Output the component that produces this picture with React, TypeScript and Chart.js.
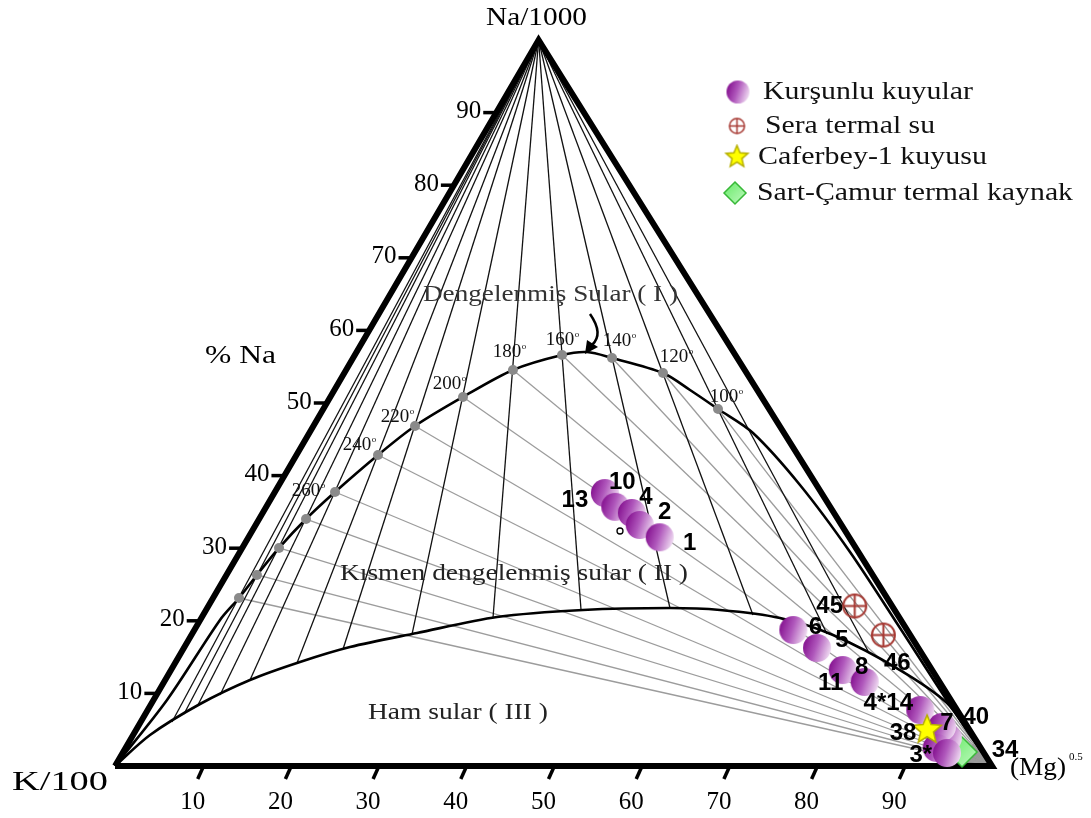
import React, { useEffect, useRef } from "react";
import { Chart, registerables } from "chart.js";

Chart.register(...registerables);

// ---------------- data (ternary %, Na = Na/1000, Mg = Mg^0.5, K/100 = 100 - Na - Mg) ----------------
const wellLabels = ["13", "10", "4", "2", "1", "6", "5", "11", "8", "4*14", "40", "7", "3*", ""];
const wellNa = [37.6, 35.7, 34.85, 33.2, 31.5, 18.73, 16.25, 13.22, 11.57, 7.71, 3.86, 5.37, 2.48, 1.79];
const wellMg = [37.7, 39.8, 42.1, 43.8, 46.9, 68.3, 72.2, 76.6, 79.9, 88.1, 93.1, 91.7, 92.5, 94.0];

const seraLabels = ["45", "46"];
const seraNa = [22.04, 18.04];
const seraMg = [73.7, 78.9];

const caferLabels = ["38"];
const caferNa = [4.96];
const caferMg = [90.2];

const sartLabels = ["34"];
const sartNa = [1.93];
const sartMg = [95.65];

// full-equilibrium temperature points (°C)
const tempLabels = ["340", "320", "300", "280", "260", "240", "220", "200", "180", "160", "140", "120", "100"];
const tempShown = [false, false, false, false, true, true, true, true, true, true, true, true, true];
const tempNa = [23.14, 26.31, 30.03, 34.02, 37.74, 42.84, 46.83, 50.83, 54.55, 56.61, 56.2, 54.13, 49.17];
const tempMg = [2.96, 3.48, 4.2, 5.35, 6.86, 9.3, 11.59, 15.13, 19.03, 23.63, 29.53, 36.34, 45.01];

// K-Mg isotherms (from the Na apex) : lower end points on the partial-equilibrium curve
const kmgEndNa = [6.06, 7.16, 8.4, 9.78, 11.85, 14.19, 16.12, 18.18, 20.39, 21.49, 21.76, 20.8, 18.18, 15.84];
const kmgEndMg = [3.57, 4.41, 5.4, 7.25, 9.67, 13.9, 18.22, 25.09, 33.25, 42.76, 52.77, 62.7, 72.41, 78.21];

// full equilibrium curve
const upperNa = [0, 9.09, 20.11, 23.14, 26.31, 30.03, 34.02, 37.74, 42.84, 46.83, 50.83, 54.55, 56.61, 57.02, 56.2, 54.13, 51.79, 49.17, 45.87, 38.71, 29.48, 19.01, 8.4, 0];
const upperMg = [0, 1.54, 2.26, 2.96, 3.48, 4.2, 5.35, 6.86, 9.3, 11.59, 15.13, 19.03, 23.63, 26.28, 29.53, 36.34, 40.55, 45.01, 50.59, 59.41, 69.57, 80.33, 91.15, 100];

// partial equilibrium curve
const lowerNa = [0, 4.27, 8.54, 11.85, 14.33, 16.39, 18.32, 20.52, 21.49, 21.76, 21.49, 20.39, 18.04, 13.22, 8.68, 4.27, 0];
const lowerMg = [0, 1.93, 5.57, 9.67, 14.17, 18.88, 25.59, 33.65, 42.98, 52.77, 58.61, 65.98, 73.16, 83.12, 90.68, 95.43, 100];

const cornerNa = [0, 0, 3.31];
const cornerMg = [96.1, 100, 96.35];

const naTicks = [10, 20, 30, 40, 50, 60, 70, 80, 90];
const mgTicks = [10, 20, 30, 40, 50, 60, 70, 80, 90];

const legendLabels = ["Kurşunlu kuyular", "Sera termal su", "Caferbey-1 kuyusu", "Sart-Çamur termal kaynak"];

// ---------------- layout / style ----------------
const SHIFT = 0.483; // apex offset along base per unit Na
const X_MIN = -13.113, X_MAX = 111.288, Y_MIN = -7.163, Y_MAX = 105.51;

const wellLabelOffsets = [[-30, 7], [7, -24], [14, -16], [25, -13], [30, 6], [22, -3], [25, -8], [-12, 13], [-3, -15], [-32, -7], [28, -21], [5, -4], [-16, 7], [0, 0]];
const seraLabelOffsets = [[-25, 0], [14, 28]];
const caferLabelOffsets = [[-24, 3]];
const sartLabelOffsets = [[43, -2]];
const tempLabelOffsets = [[0, 0], [0, 0], [0, 0], [0, 0], [-26, -1], [-18, -10], [-17, -9], [-13, -13], [-3, -18], [1, -15], [8, -17], [14, -16], [9, -12]];

const SERIF = "'Liberation Serif', 'DejaVu Serif', serif";
const SANS = "'Liberation Sans', Arial, sans-serif";

const tern = (na: number, mg: number) => ({ x: mg + na * SHIFT, y: na });

function mkCanvas(s: number) {
  const c = document.createElement("canvas");
  c.width = s;
  c.height = s;
  return c;
}
function ball(r: number) {
  const s = Math.ceil(2 * r + 2);
  const c = mkCanvas(s);
  const g = c.getContext("2d")!;
  const grad = g.createLinearGradient(1, s * 0.35, s - 1, s * 0.65);
  grad.addColorStop(0, "#84108F");
  grad.addColorStop(0.45, "#B058BC");
  grad.addColorStop(1, "#F2E0F4");
  g.fillStyle = grad;
  g.beginPath();
  g.arc(s / 2, s / 2, r, 0, Math.PI * 2);
  g.fill();
  return c;
}
function crossCircle(r: number, lw: number) {
  const s = Math.ceil(2 * r + lw + 2);
  const c = mkCanvas(s);
  const g = c.getContext("2d")!;
  g.strokeStyle = "#A63832";
  g.lineWidth = lw;
  g.beginPath();
  g.arc(s / 2, s / 2, r, 0, Math.PI * 2);
  g.stroke();
  g.beginPath();
  g.moveTo(s / 2 - r, s / 2);
  g.lineTo(s / 2 + r, s / 2);
  g.moveTo(s / 2, s / 2 - r);
  g.lineTo(s / 2, s / 2 + r);
  g.stroke();
  return c;
}
function star(r: number) {
  const s = Math.ceil(2 * r + 4);
  const c = mkCanvas(s);
  const g = c.getContext("2d")!;
  g.beginPath();
  for (let i = 0; i < 10; i++) {
    const rr = i % 2 === 0 ? r : r * 0.45;
    const a = -Math.PI / 2 + (i * Math.PI) / 5;
    const px = s / 2 + rr * Math.cos(a);
    const py = s / 2 + rr * Math.sin(a);
    i === 0 ? g.moveTo(px, py) : g.lineTo(px, py);
  }
  g.closePath();
  g.fillStyle = "#FFFF00";
  g.fill();
  g.strokeStyle = "#B5AE00";
  g.lineWidth = 1.5;
  g.stroke();
  return c;
}
function diamond(r: number) {
  const s = Math.ceil(2 * r + 4);
  const c = mkCanvas(s);
  const g = c.getContext("2d")!;
  const grad = g.createLinearGradient(0, 0, s, s);
  grad.addColorStop(0, "#5EE85E");
  grad.addColorStop(1, "#C8FBC8");
  g.beginPath();
  g.moveTo(s / 2, s / 2 - r);
  g.lineTo(s / 2 + r, s / 2);
  g.lineTo(s / 2, s / 2 + r);
  g.lineTo(s / 2 - r, s / 2);
  g.closePath();
  g.fillStyle = grad;
  g.fill();
  g.strokeStyle = "#38B838";
  g.lineWidth = 1.5;
  g.stroke();
  return c;
}

function fitText(ctx: CanvasRenderingContext2D, text: string, left: number, right: number, cy: number, font: string, color = "#000") {
  ctx.save();
  ctx.font = font;
  ctx.fillStyle = color;
  ctx.textBaseline = "middle";
  ctx.textAlign = "left";
  const w = ctx.measureText(text).width;
  ctx.translate(left, cy);
  ctx.scale((right - left) / w, 1);
  ctx.fillText(text, 0, 0);
  ctx.restore();
}
function text(ctx: CanvasRenderingContext2D, t: string, x: number, y: number, font: string, align: CanvasTextAlign = "center", color = "#000") {
  ctx.save();
  ctx.font = font;
  ctx.fillStyle = color;
  ctx.textAlign = align;
  ctx.textBaseline = "middle";
  ctx.fillText(t, x, y);
  ctx.restore();
}

export default function App() {
  const ref = useRef<HTMLCanvasElement>(null);
  useEffect(() => {
    const canvas = ref.current!;
    const wellImg = ball(14);
    const seraImg = crossCircle(11.5, 2);
    const starImg = star(15);
    const diaImg = diamond(15);
    const legendImgs = [ball(11.5), crossCircle(7.5, 1.5), star(11.5), diamond(11)];

    const pix = (chart: any) => (na: number, mg: number) => [
      chart.scales.x.getPixelForValue(mg + na * SHIFT),
      chart.scales.y.getPixelForValue(na),
    ];

    const overlay = {
      id: "overlay",
      beforeDatasetsDraw(chart: any) {
        const ctx = chart.ctx as CanvasRenderingContext2D;
        const P = pix(chart);
        ctx.save();
        ctx.fillStyle = "#8c8c8c";
        ctx.beginPath();
        cornerNa.forEach((na, i) => {
          const [px, py] = P(na, cornerMg[i]);
          i ? ctx.lineTo(px, py) : ctx.moveTo(px, py);
        });
        ctx.closePath();
        ctx.fill();
        ctx.restore();
      },
      afterDatasetsDraw(chart: any) {
        const ctx = chart.ctx as CanvasRenderingContext2D;
        const P = pix(chart);
        // Na ticks on the left edge
        ctx.save();
        ctx.strokeStyle = "#000";
        ctx.lineWidth = 3.5;
        naTicks.forEach((v) => {
          const [ex, ey] = P(v, 0);
          ctx.beginPath();
          ctx.moveTo(ex - 13, ey);
          ctx.lineTo(ex, ey);
          ctx.stroke();
          text(ctx, String(v), ex - 15, ey - 1, `25px ${SERIF}`, "right");
        });
        mgTicks.forEach((v) => {
          const [bx, by] = P(0, v);
          ctx.beginPath();
          ctx.moveTo(bx, by + 2);
          ctx.lineTo(bx - 5, by + 13);
          ctx.stroke();
          text(ctx, String(v), bx - 10, by + 36, `25px ${SERIF}`, "center");
        });
        ctx.restore();

        // axis titles
        fitText(ctx, "Na/1000", 486, 587, 18, `26px ${SERIF}`);
        fitText(ctx, "K/100", 12, 108, 783, `28px ${SERIF}`);
        fitText(ctx, "(Mg)", 1010, 1066, 768, `26px ${SERIF}`);
        text(ctx, "0.5", 1069, 757, `11px ${SERIF}`, "left");
        fitText(ctx, "% Na", 205, 276, 356, `25px ${SERIF}`);

        // region labels
        fitText(ctx, "Dengelenmiş Sular ( I )", 423, 678, 295, `24px ${SERIF}`, "#333");
        fitText(ctx, "Kısmen dengelenmiş sular ( II )", 340, 688, 574, `24px ${SERIF}`, "#222");
        fitText(ctx, "Ham sular ( III )", 368, 548, 713, `24px ${SERIF}`, "#222");

        // arrow pointing to the equilibrium curve
        ctx.save();
        ctx.strokeStyle = "#000";
        ctx.lineWidth = 2.5;
        ctx.beginPath();
        ctx.moveTo(590, 314);
        ctx.quadraticCurveTo(604, 334, 592, 345);
        ctx.stroke();
        ctx.beginPath();
        ctx.moveTo(585, 354);
        ctx.lineTo(587, 340);
        ctx.lineTo(598, 347);
        ctx.closePath();
        ctx.fillStyle = "#000";
        ctx.fill();
        ctx.restore();

        // temperature labels
        tempLabels.forEach((t, i) => {
          if (!tempShown[i]) return;
          const [px, py] = P(tempNa[i], tempMg[i]);
          const [dx, dy] = tempLabelOffsets[i];
          ctx.save();
          ctx.font = `19px ${SERIF}`;
          const w = ctx.measureText(t).width;
          ctx.restore();
          const cx = px + dx - 3;
          text(ctx, t, cx - w / 2, py + dy, `19px ${SERIF}`, "left", "#111");
          text(ctx, "o", cx + w / 2 + 0.5, py + dy - 5, `9px ${SERIF}`, "left", "#111");
        });

        // point labels
        const lab = (labels: string[], na: number[], mg: number[], offs: number[][]) => {
          labels.forEach((l, i) => {
            if (!l) return;
            const [px, py] = P(na[i], mg[i]);
            text(ctx, l, px + offs[i][0], py + offs[i][1], `bold 24px ${SANS}`, "center");
          });
        };
        lab(wellLabels, wellNa, wellMg, wellLabelOffsets);
        lab(seraLabels, seraNa, seraMg, seraLabelOffsets);
        lab(caferLabels, caferNa, caferMg, caferLabelOffsets);
        lab(sartLabels, sartNa, sartMg, sartLabelOffsets);

        // small open circle near well group
        ctx.save();
        ctx.strokeStyle = "#000";
        ctx.lineWidth = 1.3;
        ctx.beginPath();
        ctx.arc(620, 531, 3, 0, Math.PI * 2);
        ctx.stroke();
        ctx.restore();

        // legend
        const lx = [738, 737, 737, 735];
        const ly = [92, 126, 157, 193];
        const tl = [763, 765, 758, 757];
        const tr = [973, 935, 987, 1073];
        legendLabels.forEach((l, i) => {
          const im = legendImgs[i];
          ctx.drawImage(im, lx[i] - im.width / 2, ly[i] - im.height / 2);
          fitText(ctx, l, tl[i], tr[i], ly[i], `26px ${SERIF}`, "#111");
        });
      },
    };

    const lineDs = (pts: { x: number; y: number }[], color: string, width: number, order: number, tension = 0) => ({
      data: pts,
      showLine: true,
      borderColor: color,
      borderWidth: width,
      pointRadius: 0,
      fill: false,
      tension,
      order,
    });

    const apex = tern(100, 0);
    const mgCorner = tern(0, 100);
    const datasets: any[] = [];
    // Na-K isotherms (grey, from the Mg corner)
    tempNa.forEach((na, i) => datasets.push(lineDs([mgCorner, tern(na, tempMg[i])], "#9c9c9c", 1.3, 9)));
    // K-Mg isotherms (black, from the Na apex)
    kmgEndNa.forEach((na, i) => datasets.push(lineDs([apex, tern(na, kmgEndMg[i])], "#111", 1.3, 8)));
    // curves
    datasets.push(lineDs(upperNa.map((na, i) => tern(na, upperMg[i])), "#000", 2.6, 7, 0.3));
    datasets.push(lineDs(lowerNa.map((na, i) => tern(na, lowerMg[i])), "#000", 2.6, 7, 0.3));
    // triangle
    datasets.push({ ...lineDs([tern(0, 0), apex, mgCorner, tern(0, 0)], "#000", 6, 6), borderJoinStyle: "miter" });
    // temperature dots
    datasets.push({
      data: tempNa.map((na, i) => tern(na, tempMg[i])),
      pointRadius: 5,
      pointStyle: "circle",
      backgroundColor: "#8a8a8a",
      borderWidth: 0,
      showLine: false,
      order: 5,
    });
    datasets.push({ label: "Sart-Çamur termal kaynak", data: sartNa.map((na, i) => tern(na, sartMg[i])), pointStyle: diaImg, pointRadius: 14, showLine: false, order: 3 });
    datasets.push({ label: "Sera termal su", data: seraNa.map((na, i) => tern(na, seraMg[i])), pointStyle: seraImg, pointRadius: 12, showLine: false, order: 2 });
    datasets.push({ label: "Kurşunlu kuyular", data: wellNa.map((na, i) => tern(na, wellMg[i])), pointStyle: wellImg, pointRadius: 13, showLine: false, order: 1 });
    datasets.push({ label: "Caferbey-1 kuyusu", data: caferNa.map((na, i) => tern(na, caferMg[i])), pointStyle: starImg, pointRadius: 15, showLine: false, order: 0 });

    const chart = new Chart(canvas, {
      type: "scatter",
      data: { datasets },
      options: {
        animation: false,
        responsive: false,
        devicePixelRatio: 1,
        layout: { padding: 0, autoPadding: false },
        events: [],
        plugins: { legend: { display: false }, tooltip: { enabled: false }, title: { display: false } },
        scales: {
          x: { type: "linear", display: false, min: X_MIN, max: X_MAX },
          y: { type: "linear", display: false, min: Y_MIN, max: Y_MAX },
        },
      },
      plugins: [overlay],
    } as any);
    return () => chart.destroy();
  }, []);

  return (
    <div style={{ position: "absolute", left: 0, top: 0, width: 1091, height: 818, background: "#fff" }}>
      <canvas ref={ref} width={1091} height={818} style={{ display: "block" }} />
    </div>
  );
}
